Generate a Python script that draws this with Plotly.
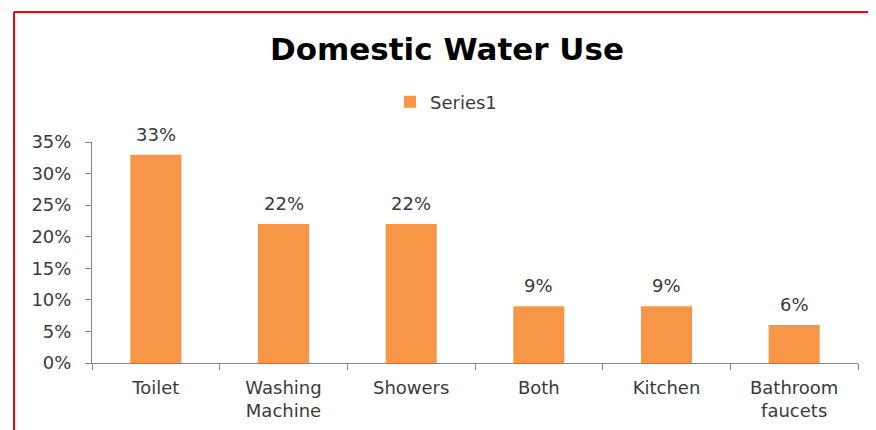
import plotly.graph_objects as go

categories = ["Toilet", "Washing<br>Machine", "Showers", "Both", "Kitchen", "Bathroom<br>faucets"]
values = [0.33, 0.22, 0.22, 0.09, 0.09, 0.06]
labels = ["33%", "22%", "22%", "9%", "9%", "6%"]
series_name = "Series1"
title = "Domestic Water Use"

OFF = 8  # page body margin
W, H = 876 - OFF, 430 - OFF
# screen-pixel geometry of the plot area
L_s, R_s, T_s, B_s = 92, 858, 142, 363
ml, mr, mt, mb = L_s - OFF, W - (R_s - OFF), T_s - OFF, H - (B_s - OFF)
pw = W - ml - mr
ph = H - mt - mb

def px_x(x):
    return (x - OFF - ml) / pw

def px_y(y):
    return (H - mb - (y - OFF)) / ph

FONT = "DejaVu Sans"
TXT = "#3a3a3a"

fig = go.Figure(go.Bar(
    x=categories, y=values, name=series_name,
    marker=dict(color="#F79646", line=dict(width=0)),
))

for c, v, t in zip(categories, values, labels):
    fig.add_annotation(x=c, y=v, text=t, showarrow=False, xref="x", yref="y",
                       yanchor="bottom", yshift=8,
                       font=dict(size=18, color=TXT, family=FONT))

fig.update_layout(
    width=W, height=H,
    margin=dict(l=ml, r=mr, t=mt, b=mb, autoexpand=False),
    paper_bgcolor="white", plot_bgcolor="white",
    font=dict(family=FONT, size=18, color=TXT),
    title=dict(text="<b>" + title + "</b>", x=(447 - OFF) / W, xanchor="center",
               y=1 - (49 - OFF) / H, yanchor="middle",
               font=dict(size=31, color="black", family=FONT)),
    showlegend=True,
    legend=dict(orientation="h", x=(446 - OFF) / W, xref="container", xanchor="center",
                y=1 - (102 - OFF) / H, yref="container", yanchor="middle",
                font=dict(size=18, color=TXT)),
    bargap=0.6,
    xaxis=dict(showline=True, linecolor="#868686", linewidth=1, automargin=False,
               ticks="outside", tickson="boundaries", ticklen=6, tickcolor="#868686",
               showgrid=False, tickfont=dict(size=18), ticklabelstandoff=8),
    yaxis=dict(range=[0, 0.35], tickformat=".0%", dtick=0.05, automargin=False,
               showline=True, linecolor="#868686", linewidth=1,
               ticks="outside", ticklen=6, tickcolor="#868686",
               showgrid=False, zeroline=False, tickfont=dict(size=18),
               ticklabelstandoff=10),
    shapes=[
        dict(type="line", xref="paper", yref="paper",
             x0=px_x(14), x1=px_x(14), y0=px_y(440), y1=px_y(12),
             line=dict(color="#FF0000", width=2)),
        dict(type="line", xref="paper", yref="paper",
             x0=px_x(14), x1=px_x(890), y0=px_y(12), y1=px_y(12),
             line=dict(color="#FF0000", width=2)),
    ],
)

fig.write_html("out.html")
